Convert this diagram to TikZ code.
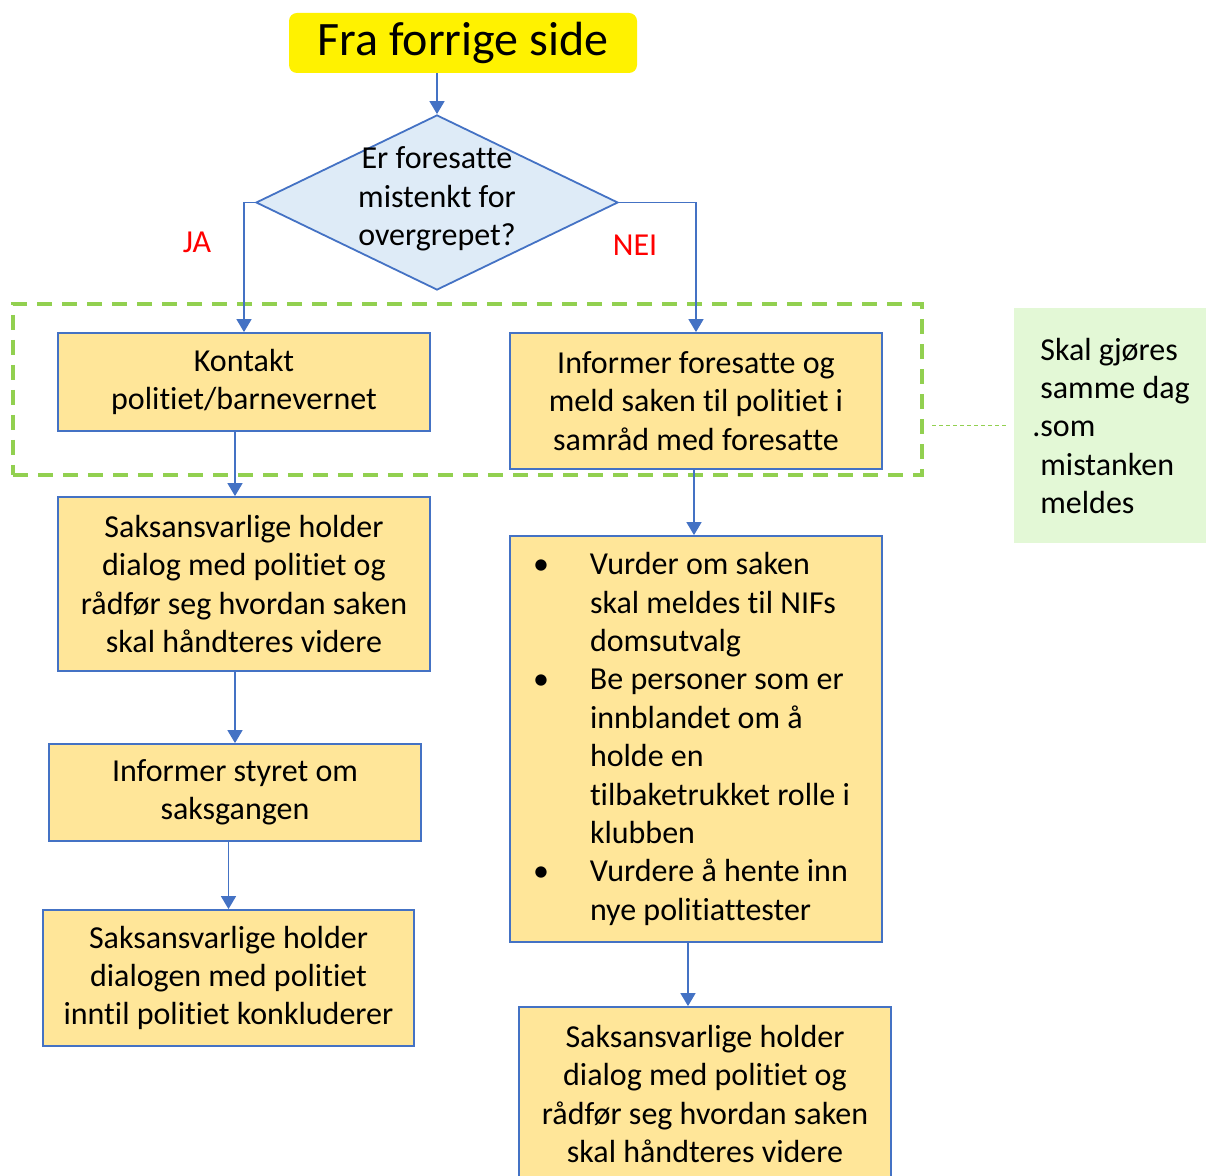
\documentclass[tikz,border=0pt]{standalone}
\usepackage{fontspec}
\setmainfont{Carlito}[Ligatures=NoCommon]
\usetikzlibrary{shapes.geometric, arrows.meta, calc}
\definecolor{lineblue}{HTML}{4472C4}
\definecolor{boxyellow}{HTML}{FFE699}
\definecolor{qblue}{HTML}{DEEBF7}
\definecolor{grpgreen}{HTML}{92D050}
\definecolor{notegreen}{HTML}{E3F8D6}
\newcommand{\bl}{\hspace*{11.5pt}\makebox[28.5pt][l]{\textbullet}}
\newcommand{\ind}{\hspace*{40pt}}

\begin{document}
\begin{tikzpicture}[x=0.5pt, y=-0.5pt,
  txt/.style={font=\fontsize{16}{19.2}\selectfont},
  stepbox/.style={txt, draw=lineblue, line width=0.9pt, fill=boxyellow, align=center, minimum width=186pt, inner sep=0pt},
  flow/.style={draw=lineblue, line width=0.8pt, -{Triangle[width=7.5pt,length=6.5pt]}},
  answer/.style={txt, text=red}]
 \useasboundingbox (0,0) rectangle (1206,1176);
 \clip (0,0) rectangle (1206,1176);

  \node [fill=yellow, rounded corners=4pt, minimum width=174pt, minimum height=30pt, inner sep=0, font=\fontsize{24}{28}\selectfont] (top) at (463,43) {Fra forrige side};

  \node [diamond, draw=lineblue, line width=0.9pt, fill=qblue, minimum width=181pt, minimum height=87.5pt, inner sep=0] (q) at (437,202.5) {};
  \node [txt, align=center, inner sep=0] (qtext) at (437,199) {Er foresatte\\mistenkt for\\overgrepet?};

  \node [answer] (ja) at (197,242) {JA};
  \node [answer] (nei) at (635,245) {NEI};

  \node [draw=grpgreen, line width=2pt, dash pattern=on 7.5pt off 5pt, minimum width=454.5pt, minimum height=85.5pt, inner sep=0] (grp) at (467.5,389.5) {};

  \node [stepbox, minimum height=49pt] (K1) at (244,382) {Kontakt\\politiet/barnevernet};
  \node [stepbox, minimum height=68pt] (N1) at (696,401) {Informer foresatte og\\meld saken til politiet i\\samråd med foresatte};

  \node [txt, fill=notegreen, anchor=north west, minimum height=117.5pt, text width=90pt, inner xsep=13pt, align=flush left] (note) at (1014,308) {Skal gjøres\\samme dag\\\leavevmode\llap{.}som\\mistanken\\meldes};

  \node [stepbox, minimum height=87pt] (L2) at (244,584) {Saksansvarlige holder\\dialog med politiet og\\rådfør seg hvordan saken\\skal håndteres videre};
  \node [stepbox, minimum height=48.5pt] (L3) at (235,792.5) {Informer styret om\\saksgangen};
  \node [stepbox, minimum height=68pt, minimum width=185.5pt] (L4) at (228.5,978) {Saksansvarlige holder\\dialogen med politiet\\inntil politiet konkluderer};

  \node [stepbox, minimum height=203pt, align=flush left, text width=186pt] (N2) at (696,739) {\bl Vurder om saken\\\ind skal meldes til NIFs\\\ind domsutvalg\\\bl Be personer som er\\\ind innblandet om å\\\ind holde en\\\ind tilbaketrukket rolle i\\\ind klubben\\\bl Vurdere å hente inn\\\ind nye politiattester};
  \node [stepbox, minimum height=87pt] (N3) at (705,1094) {Saksansvarlige holder\\dialog med politiet og\\rådfør seg hvordan saken\\skal håndteres videre};

\draw [flow] (top.south -| q.north) -- (q.north);
\draw [flow] (q.west) -| (K1.north);
\draw [flow] (q.east) -| (N1.north);
\draw [flow] (K1.south -| L3.north) -- (L2.north -| L3.north);
\draw [flow] (L2.south -| L3.north) -- (L3.north);
\draw [flow] (L3.south -| L4.north) -- (L4.north);
\draw [flow] ([xshift=-1pt]N1.south) -- ([xshift=-1pt]N2.north);
\draw [flow] ([xshift=-4pt]N2.south) -- ([xshift=-4pt]N2.south |- N3.north);
\draw [grpgreen, line width=0.5pt, dash pattern=on 2pt off 1.5pt] ([xshift=4pt]grp.east |- note.west) -- ([xshift=-3pt]note.west);

  \end{tikzpicture}
\end{document}
